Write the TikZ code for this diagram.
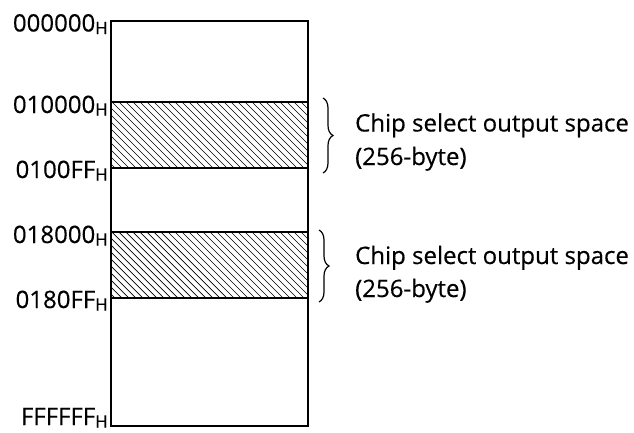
\documentclass[tikz,border=0pt]{standalone}
\usepackage{fontspec}
\setmainfont{Open Sans}[FakeBold=0.4]
\usetikzlibrary{decorations.pathreplacing}
\newcommand{\hsub}{{\fontsize{17}{17}\selectfont\raisebox{-2.5pt}{H}}}
\begin{document}
\begin{tikzpicture}[x=1pt,y=-1pt,
  addr/.style={anchor=base east,inner sep=0pt,font=\fontsize{24}{26}\selectfont},
  desc/.style={anchor=base west,inner sep=0pt,font=\fontsize{24}{26}\selectfont},
  brc/.style={decorate,decoration={brace,amplitude=10pt},line width=1.2pt},
  box/.style={line width=1.3pt}]
\useasboundingbox (0,0) rectangle (634,432);
% hatching
\foreach \ya/\yb in {102/168,232/298}{
  \begin{scope}
    \clip (111,\ya) rectangle (308,\yb);
    \foreach \k in {-70,-63,...,310}{
      \draw[line width=0.7pt] (\k,\ya) -- (\k+66,\yb);
    }
  \end{scope}
}
% box and lines
\draw[box] (111,21) rectangle (308,426);
\draw[box] (111,102) -- (308,102);
\draw[box] (111,168) -- (308,168);
\draw[box] (111,232) -- (308,232);
\draw[box] (111,298) -- (308,298);
% address labels
\node[addr] (a0) at (108,31.5) {000000\hsub};
\node[addr] (a1) at (108,113) {010000\hsub};
\node[addr] (a2) at (108,178) {0100FF\hsub};
\node[addr] (a3) at (108,243) {018000\hsub};
\node[addr] (a4) at (108,308) {0180FF\hsub};
\node[addr] (a5) at (108,425) {FFFFFF\hsub};
% braces
\coordinate (b1t) at (323,98);
\coordinate (b1b) at (323,173);
\coordinate (b2t) at (319,230);
\coordinate (b2b) at (319,302);
\draw[brc] (b1t) -- (b1b);
\draw[brc] (b2t) -- (b2b);
\node[desc] (d1) at (355,131.5) {Chip select output space};
\node[desc] (d1b) at (355,165) {(256-byte)};
\node[desc] (d2) at (355,264) {Chip select output space};
\node[desc] (d2b) at (355,297) {(256-byte)};
\end{tikzpicture}
\end{document}
